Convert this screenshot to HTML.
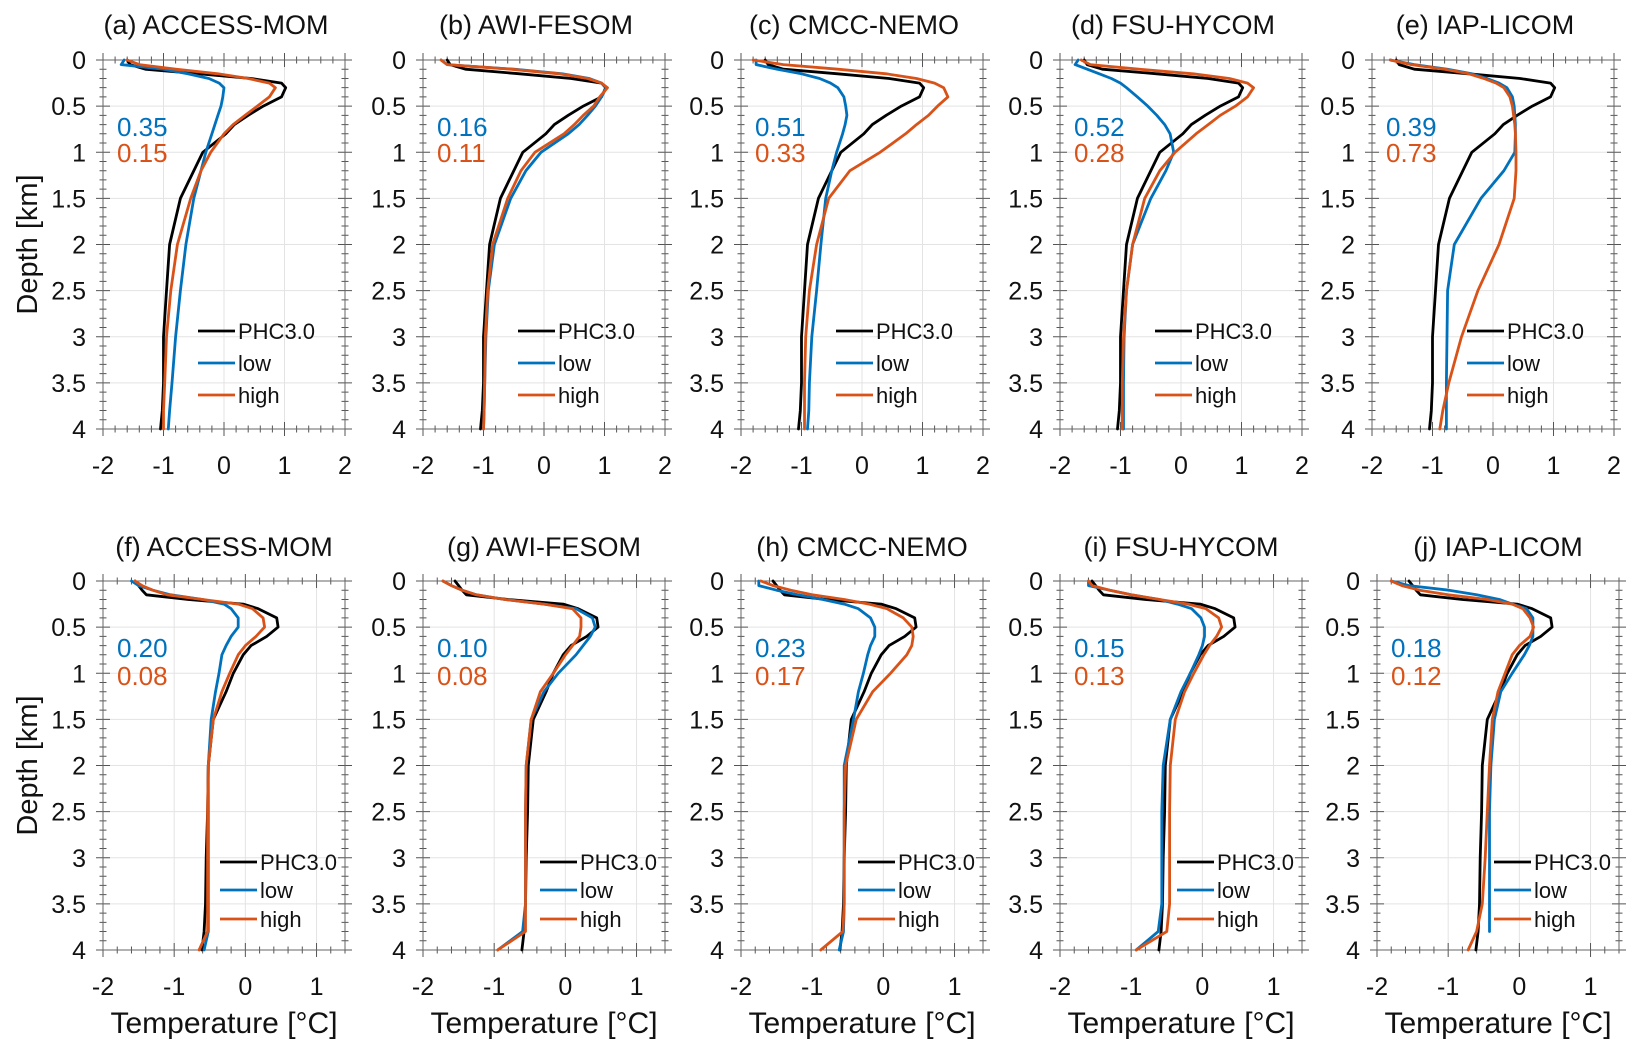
<!DOCTYPE html>
<html><head><meta charset="utf-8"><style>
html,body{margin:0;padding:0;background:#fff;}
svg{display:block;font-family:"Liberation Sans",Arial,sans-serif;}
</style></head>
<body>
<svg id="fig" width="1643" height="1053" viewBox="0 0 1643 1053" xmlns="http://www.w3.org/2000/svg"></svg>
<script>
const depths = [0,0.05,0.1,0.15,0.2,0.25,0.3,0.4,0.5,0.6,0.7,0.8,1.0,1.2,1.5,2.0,2.5,3.0,3.5,3.8,4.0];
const phcTop = [-1.6,-1.55,-1.3,-0.4,0.45,0.95,1.02,0.95,0.65,0.4,0.17,0.03,-0.35,-0.5,-0.72,-0.9,-0.95,-1.0,-1.0,-1.02,-1.05];
const phcBot = [-1.55,-1.5,-1.45,-1.39,-0.8,-0.03,0.18,0.44,0.46,0.3,0.08,-0.03,-0.17,-0.27,-0.45,-0.52,-0.53,-0.55,-0.56,-0.58,-0.61];
const titles = ["(a) ACCESS-MOM","(b) AWI-FESOM","(c) CMCC-NEMO","(d) FSU-HYCOM","(e) IAP-LICOM","(f) ACCESS-MOM","(g) AWI-FESOM","(h) CMCC-NEMO","(i) FSU-HYCOM","(j) IAP-LICOM"];
const lowStats = ["0.35","0.16","0.51","0.52","0.39","0.20","0.10","0.23","0.15","0.18"];
const highStats = ["0.15","0.11","0.33","0.28","0.73","0.08","0.08","0.17","0.13","0.12"];
const lowA = [-1.65,-1.7,-1.0,-0.6,-0.25,-0.08,0.0,-0.02,-0.05,-0.1,-0.15,-0.2,-0.3,-0.38,-0.5,-0.63,-0.72,-0.8,-0.86,-0.9,-0.92];
const highA = [-1.6,-1.4,-0.8,-0.1,0.4,0.75,0.85,0.75,0.55,0.35,0.15,0.0,-0.22,-0.38,-0.55,-0.77,-0.88,-0.95,-0.98,-1.0,-1.0];
const lowB = [-1.7,-1.6,-0.5,0.3,0.75,0.95,1.03,0.95,0.85,0.72,0.58,0.4,-0.05,-0.3,-0.55,-0.82,-0.92,-0.96,-0.98,-0.99,-1.0];
const highB = [-1.7,-1.6,-0.55,0.25,0.72,0.95,1.05,0.92,0.82,0.65,0.5,0.33,-0.15,-0.38,-0.6,-0.85,-0.93,-0.97,-0.98,-0.99,-1.0];
const lowC = [-1.75,-1.75,-1.4,-1.0,-0.7,-0.52,-0.4,-0.3,-0.27,-0.25,-0.28,-0.32,-0.42,-0.5,-0.6,-0.68,-0.75,-0.83,-0.87,-0.88,-0.9];
const highC = [-1.8,-1.3,-0.4,0.4,0.9,1.2,1.35,1.42,1.25,1.1,0.9,0.72,0.3,-0.2,-0.55,-0.75,-0.87,-0.93,-0.95,-0.95,-0.95];
const lowD = [-1.7,-1.75,-1.55,-1.35,-1.15,-1.0,-0.9,-0.72,-0.55,-0.4,-0.27,-0.18,-0.12,-0.25,-0.5,-0.8,-0.9,-0.94,-0.95,-0.95,-0.95];
const highD = [-1.65,-1.5,-0.7,0.2,0.8,1.1,1.2,1.1,0.9,0.65,0.45,0.25,-0.1,-0.35,-0.6,-0.8,-0.9,-0.95,-0.97,-0.97,-0.97];
const lowE = [-1.7,-1.3,-0.75,-0.35,-0.1,0.1,0.23,0.32,0.35,0.36,0.37,0.37,0.36,0.18,-0.2,-0.64,-0.75,-0.76,-0.77,-0.77,-0.77];
const highE = [-1.7,-1.35,-0.8,-0.4,-0.15,0.05,0.18,0.28,0.32,0.34,0.36,0.37,0.38,0.38,0.35,0.1,-0.25,-0.52,-0.73,-0.83,-0.88];
const lowF = [-1.6,-1.5,-1.3,-1.05,-0.6,-0.3,-0.2,-0.1,-0.1,-0.2,-0.27,-0.33,-0.37,-0.42,-0.48,-0.52,-0.52,-0.52,-0.52,-0.52,-0.58];
const highF = [-1.55,-1.45,-1.3,-1.1,-0.6,-0.1,0.1,0.25,0.27,0.15,0.0,-0.1,-0.22,-0.33,-0.45,-0.52,-0.53,-0.53,-0.53,-0.53,-0.65];
const lowG = [-1.72,-1.6,-1.45,-1.25,-0.85,-0.3,0.15,0.38,0.42,0.35,0.25,0.15,-0.1,-0.3,-0.48,-0.55,-0.56,-0.56,-0.56,-0.6,-0.95];
const highG = [-1.72,-1.6,-1.45,-1.25,-0.85,-0.3,0.1,0.22,0.22,0.2,0.1,0.0,-0.17,-0.35,-0.48,-0.55,-0.56,-0.56,-0.56,-0.56,-0.95];
const lowH = [-1.75,-1.75,-1.5,-1.2,-0.85,-0.55,-0.35,-0.18,-0.12,-0.12,-0.18,-0.22,-0.28,-0.35,-0.42,-0.55,-0.55,-0.55,-0.55,-0.56,-0.62];
const highH = [-1.72,-1.55,-1.3,-1.0,-0.55,-0.2,0.05,0.28,0.4,0.42,0.4,0.33,0.1,-0.15,-0.38,-0.53,-0.55,-0.55,-0.55,-0.57,-0.88];
const lowI = [-1.6,-1.6,-1.3,-1.0,-0.6,-0.35,-0.15,-0.02,0.03,0.03,0.0,-0.05,-0.17,-0.3,-0.45,-0.55,-0.57,-0.57,-0.57,-0.62,-0.93];
const highI = [-1.6,-1.55,-1.3,-1.0,-0.6,-0.2,0.05,0.23,0.27,0.2,0.1,0.02,-0.12,-0.25,-0.38,-0.45,-0.46,-0.46,-0.46,-0.5,-0.93];
const lowJ = [-1.8,-1.55,-0.99,-0.6,-0.28,-0.1,0.1,0.19,0.19,0.19,0.14,0.07,-0.1,-0.26,-0.35,-0.4,-0.42,-0.42,-0.42,-0.42,null];
const highJ = [-1.8,-1.65,-1.4,-1.0,-0.45,-0.1,0.05,0.15,0.2,0.15,0.0,-0.1,-0.2,-0.3,-0.38,-0.42,-0.45,-0.48,-0.52,-0.6,-0.72];

const lowSeries = [lowA,lowB,lowC,lowD,lowE,lowF,lowG,lowH,lowI,lowJ];
const highSeries = [highA,highB,highC,highD,highE,highF,highG,highH,highI,highJ];

const NS = "http://www.w3.org/2000/svg";
const svg = document.getElementById('fig');
function mk(tag, attrs, parent){
  const e = document.createElementNS(NS, tag);
  for (const k in attrs) e.setAttribute(k, attrs[k]);
  (parent||svg).appendChild(e);
  return e;
}
const topLefts = [103,423,741,1060,1372];
const botLefts = [103,423,741,1060,1377];
const BLUE = "#0072BD", RED = "#D95319";

for (let p = 0; p < 10; p++) {
  const row = p < 5 ? 0 : 1;
  const col = p % 5;
  const L = row ? botLefts[col] : topLefts[col];
  const W = 242;
  const T = row ? 581 : 60;
  const H = 369;
  const xmin = -2, xmax = row ? 1.4 : 2;
  const xs = v => L + (v - xmin) / (xmax - xmin) * W;
  const ys = d => T + d / 4 * H;
  const g = mk('g', {});
  
  

  for (let v = -2; v <= xmax + 1e-9; v += 1) {
    const gl = mk('line', {x1: xs(v), x2: xs(v), y1: T, y2: T + H, stroke: '#e3e3e3', 'stroke-width': 1}, g);
    
    
  }
  for (let d = 0; d <= 4.001; d += 0.5) {
    const gl = mk('line', {x1: L, x2: L + W, y1: ys(d), y2: ys(d), stroke: '#e3e3e3', 'stroke-width': 1}, g);
    
    
  }
  let tk = '';
  for (let i = 0; i <= Math.round((xmax - xmin) / 0.2); i++) {
    const v = xmin + i * 0.2, x = xs(v);
    const major = Math.abs(v - Math.round(v)) < 1e-6;
    const len = major ? 7 : 3.5;
    tk += `M${x},${T - len}V${T + len}M${x},${T + H - len}V${T + H + len}`;
  }
  for (let i = 0; i <= 40; i++) {
    const d = i * 0.1, y = ys(d);
    const major = i % 5 === 0;
    const len = major ? 7 : 3.5;
    tk += `M${L - len},${y}H${L + len}M${L + W - len},${y}H${L + W + len}`;
  }
  const ticks = mk('path', {d: tk, stroke: '#555', 'stroke-width': 1, fill: 'none'}, g);
  
  
  const box = mk('rect', {x: L, y: T, width: W, height: H, fill: 'none', stroke: '#666', 'stroke-width': 1}, g);
  
  

  for (let d = 0; d <= 4.001; d += 0.5) {
    const t = mk('text', {x: L - 17, y: ys(d) + 9, 'text-anchor': 'end', 'font-size': 25, fill: '#111'}, g);
    t.textContent = String(Math.round(d * 10) / 10);
    
    
  }
  for (let v = -2; v <= xmax + 1e-9; v += 1) {
    const t = mk('text', {x: xs(v), y: T + H + 45, 'text-anchor': 'middle', 'font-size': 25, fill: '#111'}, g);
    t.textContent = String(v);
    
    
  }
  const tt = mk('text', {x: L + W / 2 + (row ? 0 : -8), y: T - (row ? 25 : 26), 'text-anchor': 'middle', 'font-size': 27, fill: '#111'}, g);
  tt.textContent = titles[p];
  
  

  const series = [[row ? phcBot : phcTop, '#000', 'phc-line'], [lowSeries[p], BLUE, 'low-line'], [highSeries[p], RED, 'high-line']];
  for (const [vals, color, name] of series) {
    let dstr = '';
    vals.forEach((v, i) => {
      if (v === null) return;
      dstr += (dstr ? 'L' : 'M') + xs(v).toFixed(1) + ',' + ys(depths[i]).toFixed(1);
    });
    const pl = mk('path', {d: dstr, stroke: color, 'stroke-width': 2.8, fill: 'none', 'stroke-linejoin': 'round', 'stroke-linecap': 'round'}, g);
    
    
  }

  const s1 = mk('text', {x: L + 14, y: T + (row ? 76 : 76), 'font-size': 26, fill: BLUE}, g);
  s1.textContent = lowStats[p];
  
  
  const s2 = mk('text', {x: L + 14, y: T + (row ? 104 : 102), 'font-size': 26, fill: RED}, g);
  s2.textContent = highStats[p];
  
  

  const lx = L + (row ? 117 : 95);
  const rowsY = row ? [281, 309, 338] : [271, 303, 335];
  const labels = ['PHC3.0', 'low', 'high'];
  const cols = ['#000', BLUE, RED];
  const leg = mk('g', {}, g);
  
  
  for (let i = 0; i < 3; i++) {
    const ln = mk('line', {x1: lx, x2: lx + 37, y1: T + rowsY[i], y2: T + rowsY[i], stroke: cols[i], 'stroke-width': 2.8}, leg);
    
    
    const lt = mk('text', {x: lx + 40, y: T + rowsY[i] + 8, 'font-size': 22, fill: '#111'}, leg);
    lt.textContent = labels[i];
    
    
  }

  if (col === 0) {
    const yl = mk('text', {x: 0, y: 0, transform: `translate(37,${T + H / 2}) rotate(-90)`, 'text-anchor': 'middle', 'font-size': 29, fill: '#111'}, g);
    yl.textContent = 'Depth [km]';
    
    
  }
  if (row) {
    const xl = mk('text', {x: L + W / 2, y: T + H + 83, 'text-anchor': 'middle', 'font-size': 30, fill: '#111'}, g);
    xl.textContent = 'Temperature [°C]';
    
    
  }
}
</script>
</body></html>
